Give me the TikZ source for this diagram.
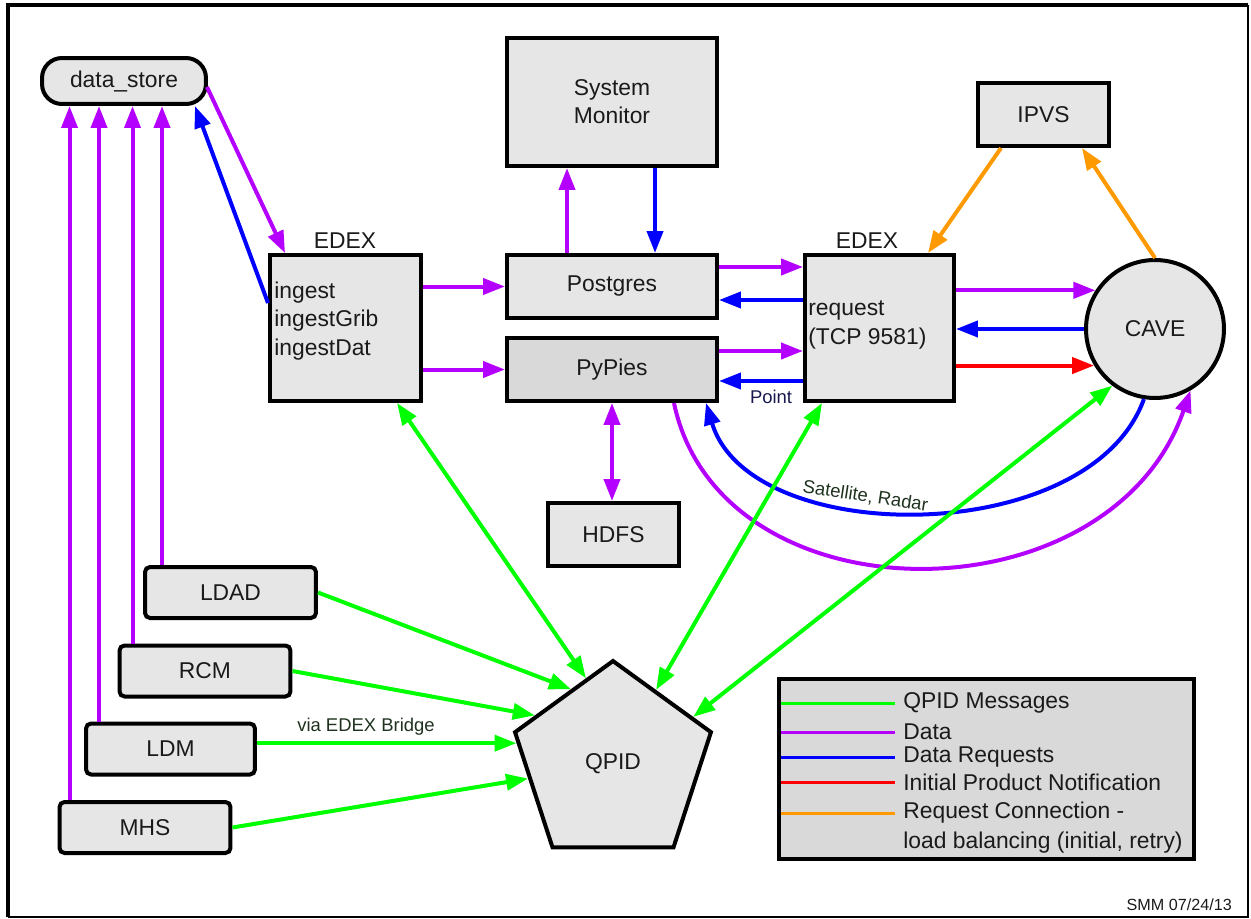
\documentclass[tikz,border=0pt]{standalone}
\usepackage{fontspec}
\setmainfont{Liberation Sans}
\usetikzlibrary{arrows.meta,calc,shapes.geometric}
\definecolor{dpurple}{RGB}{180,0,255}
\definecolor{dblue}{RGB}{0,0,255}
\definecolor{dred}{RGB}{255,0,0}
\definecolor{dgreen}{RGB}{0,255,0}
\definecolor{dorange}{RGB}{255,153,0}
\definecolor{boxgray}{RGB}{230,230,230}
\definecolor{keygray}{RGB}{217,217,217}
\definecolor{ink}{RGB}{26,26,26}
\definecolor{lblgreen}{RGB}{30,50,30}
\definecolor{lblnavy}{RGB}{25,25,80}

\begin{document}
\begin{tikzpicture}[x=0.02cm,y=-0.02cm,font=\fontsize{13}{16}\selectfont,text=ink,
	box/.style={draw,line width=0.08cm,fill=boxgray,align=center,inner sep=2pt},
	rbox/.style={box,rounded corners=0.1cm,minimum width=3.42cm,minimum height=1.02cm},
	lab/.style={inner sep=2pt},
	smalltxt/.style={font=\fontsize{10.5}{12}\selectfont},
	keytxt/.style={anchor=west,inner xsep=0.16cm,inner ysep=0pt},
	dat/.style={draw=dpurple,line width=0.08cm},
	dreq/.style={draw=dblue,line width=0.08cm},
	note/.style={draw=dred,line width=0.08cm},
	msg/.style={draw=dgreen,line width=0.08cm},
	bal/.style={draw=dorange,line width=0.08cm},
	>={Triangle[length=0.44cm,width=0.32cm]}]
	
	\useasboundingbox (0,0) rectangle (1251,919);
	%frame
	\draw[line width=0.08cm] (8,917) -- (8,5) -- (1248,5);
	\draw[line width=0.04cm] (1248,5) -- (1248,917) -- (8,917);
	
	\node[box,rounded corners=0.4cm,minimum width=3.28cm,minimum height=0.92cm] (ds) at (124,81) {data\_store};
	\node[box,minimum width=3.02cm,minimum height=2.92cm] (ingest) at (345.5,328) {};
	\node[anchor=west,align=left,inner sep=0pt] (ingesttxt) at (274,321) {ingest\\ingestGrib\\ingestDat};
	\node[lab] (edexin) at (345,241) {EDEX};
	\node[box,minimum width=4.2cm,minimum height=2.56cm] (sm) at (612,102) {System\\Monitor};
	\node[box,minimum width=4.2cm,minimum height=1.26cm] (pg) at (612,286.5) {Postgres};
	\node[box,fill=keygray,minimum width=4.2cm,minimum height=1.26cm] (py) at (612,369.5) {PyPies};
	\node[box,minimum width=2.98cm,minimum height=2.92cm] (req) at (879.5,328) {};
	\node[anchor=west,align=left,inner sep=0pt] (reqtxt) at (808,325) {request\\(TCP 9581)};
	\node[lab] (edexreq) at (867,241) {EDEX};
	\node[box,minimum width=2.62cm,minimum height=1.26cm] (ipvs) at (1043.5,114.5) {IPVS};
	\node[box,circle,inner sep=0pt,minimum size=2.76cm] (cave) at (1155,329) {CAVE};
	\node[box,minimum width=2.62cm,minimum height=1.26cm] (hdfs) at (613.5,534.5) {HDFS};
	\node[box,regular polygon,regular polygon sides=5,inner sep=0pt,minimum size=4.12cm] (qpid) at (613,764) {QPID};
	\node[rbox] (ldad) at (230.5,592.5) {LDAD};
	\node[rbox] (rcm) at (205,671) {RCM};
	\node[rbox,minimum width=3.38cm] (ldm) at (170.5,749) {LDM};
	\node[rbox] (mhs) at (145,827.5) {MHS};
	
	%legend
	\node[box,fill=keygray,minimum width=8.3cm,minimum height=3.6cm] (legend) at (986.5,769) {};
	\node[keytxt] (k1) at (895,703) {QPID Messages};
	\node[keytxt] (k2) at (895,732) {Data};
	\node[keytxt] (k3) at (895,757) {Data Requests};
	\node[keytxt] (k4) at (895,782) {Initial Product Notification};
	\node[keytxt] (k5) at (895,813) {Request Connection -};
	\node[keytxt] (k6) at (895,843) {load balancing (initial, retry)};
	\coordinate (kx) at ($(legend.west)+(4,0)$);
	\draw[msg,line width=0.06cm] (kx |- k1.west) -- (k1.west);
	\draw[dat,line width=0.06cm] (kx |- k2.west) -- (k2.west);
	\draw[dreq,line width=0.06cm] (kx |- k3.west) -- (k3.west);
	\draw[note,line width=0.06cm] (kx |- k4.west) -- (k4.west);
	\draw[bal,line width=0.06cm] (kx |- k5.west) -- (k5.west);
	\node[anchor=east,font=\fontsize{9.2}{11}\selectfont] (smm) at (1238,905) {SMM 07/24/13};
	
	\begin{scope}
	%data store
	\coordinate (ldadup) at ($(ldad.north west)+(19,0)$);
	\coordinate (rcmup) at ($(rcm.north west)+(15,0)$);
	\coordinate (ldmup) at ($(ldm.north west)+(15,0)$);
	\coordinate (mhsup) at ($(mhs.north west)+(12,0)$);
	\draw[dat,->] (ldadup) -- (ldadup |- ds.south);
	\draw[dat,->] (rcmup) -- (rcmup |- ds.south);
	\draw[dat,->] (ldmup) -- (ldmup |- ds.south);
	\draw[dat,->] (mhsup) -- (mhsup |- ds.south);
	\draw[dat,->] ($(ds.east)+(-1,6)$) -- ($(ingest.north west)+(17,0)$);
	\draw[dreq,->] ($(ingest.west)+(0,-25)$) -- ($(ds.south east)+(-13,0)$);
	%ingest
	\draw[dat,->] (ingest.east |- pg.west) -- (pg.west);
	\draw[dat,->] (ingest.east |- py.west) -- (py.west);
	\coordinate (pgup) at ($(pg.north west)+(62,0)$);
	\coordinate (smdown) at ($(sm.south west)+(150,0)$);
	\draw[dat,->] (pgup) -- (pgup |- sm.south);
	\draw[dreq,->] (smdown) -- (smdown |- pg.north);
	%request
	\coordinate (pgout) at ($(pg.north east)+(0,14)$);
	\coordinate (pgin) at ($(pg.east)+(0,13.5)$);
	\coordinate (pyout) at ($(py.north east)+(0,15)$);
	\coordinate (pyin) at ($(py.south east)+(0,-22)$);
	\draw[dat,->] (pgout) -- (pgout -| req.west);
	\draw[dreq,->] (pgin -| req.west) -- (pgin);
	\draw[dat,->] (pyout) -- (pyout -| req.west);
	\draw[dreq,->] (pyin -| req.west) -- node[pos=0.38,below=1pt,smalltxt,text=lblnavy]{Point} (pyin);
	\draw[dat,->] (req.east |- cave.147) -- (cave.147);
	\draw[dreq,->] (cave.west) -- (cave.west -| req.east);
	\draw[note,->] (req.east |- cave.211) -- (cave.211);
	%load balancing
	\draw[bal,->] ($(ipvs.south west)+(25,0)$) -- ($(req.north east)+(-28,0)$);
	\draw[bal,->] (cave.north) -- ($(ipvs.south east)+(-29,0)$);
	%pypies
	\draw[dat,<->] (py.south) -- (py.south |- hdfs.north);
	\draw[dat,->] ($(py.south east)+(-45,0)$) .. controls (720,623) and (1110,623) .. (cave.-60);
	\draw[dreq,->] (cave.-99) .. controls (1090,549) and (750,549) .. ($(py.south east)+(-13,0)$)
		node[pos=0.6,sloped,above,inner sep=1pt,smalltxt,text=lblgreen]{Satellite, Radar};
	%qpid
	\draw[msg,<->] ($(ingest.south west)+(129,0)$) -- ($(qpid.corner 1)!0.27!(qpid.corner 2)$);
	\draw[msg,<->] ($(req.south west)+(19,0)$) -- ($(qpid.corner 1)!0.43!(qpid.corner 5)$);
	\draw[msg,<->] (cave.233) -- ($(qpid.corner 1)!0.8!(qpid.corner 5)$);
	\draw[msg,->] (ldad.east) -- ($(qpid.corner 1)!0.42!(qpid.corner 2)$);
	\draw[msg,->] (rcm.east) -- ($(qpid.corner 1)!0.78!(qpid.corner 2)$);
	\coordinate (qldm) at ($(qpid.corner 2)!0.1!(qpid.corner 3)$);
	\draw[msg,->] (ldm.east |- qldm) -- node[pos=0.42,above=0pt,smalltxt,text=lblgreen]{via EDEX Bridge} (qldm);
	\draw[msg,->] (mhs.east) -- ($(qpid.corner 2)!0.4!(qpid.corner 3)$);
	\end{scope}
\end{tikzpicture}
\end{document}
